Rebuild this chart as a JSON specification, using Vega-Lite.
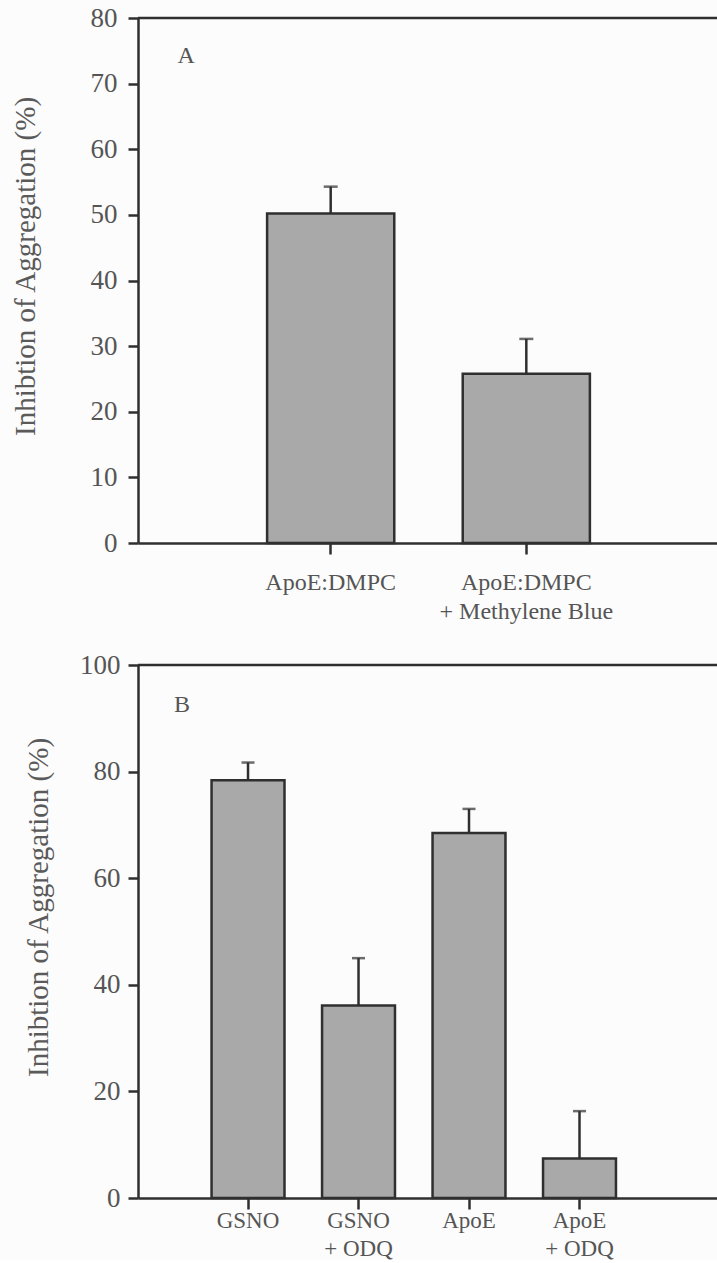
{
  "$schema": "https://vega.github.io/schema/vega-lite/v6.json",
  "background": "#fcfcfc",
  "padding": {"left": 11, "top": 4, "right": 0, "bottom": 0},
  "columns": 1,
  "align": "none",
  "spacing": 28,
  "concat": [
    {
      "width": 581,
      "height": 525,
      "layer": [
        {
          "data": {"values": [
            {"condition": "ApoE:DMPC", "inhibition": 50.2, "upper": 54.3},
            {"condition": "ApoE:DMPC + Methylene Blue", "inhibition": 25.8, "upper": 31.1}
          ]},
          "encoding": {
            "x": {
              "field": "condition", "type": "nominal", "sort": null,
              "scale": {"paddingInner": 0.35, "paddingOuter": 0.66, "align": 0.5},
              "axis": {"title": null, "labelAngle": 0, "tickSize": 11, "labelPadding": 16, "labelFontSize": 24, "labelLineHeight": 29,
                "labelFont": "Liberation Serif",
                "labelExpr": "indexof(datum.label, ' + ') > 0 ? [substring(datum.label, 0, indexof(datum.label, ' + ')), substring(datum.label, indexof(datum.label, ' + ') + 1)] : datum.label"}
            }
          },
          "layer": [
            {
              "mark": {"type": "bar", "fill": "#a9a9a9", "stroke": "#2f2f2f", "strokeWidth": 2.5},
              "encoding": {
                "y": {"field": "inhibition", "type": "quantitative", "scale": {"domain": [0, 80], "nice": false},
                  "axis": {"title": "Inhibtion of Aggregation (%)", "values": [0, 10, 20, 30, 40, 50, 60, 70, 80], "tickSize": 10, "labelPadding": 11, "titlePadding": 50, "titleY": 248,
                    "labelFont": "Liberation Serif", "titleFont": "Liberation Serif", "labelFontSize": 27, "titleFontSize": 29, "titleFontWeight": "normal", "labelColor": "#555", "titleColor": "#5a5a5a"}}
              }
            },
            {
              "mark": {"type": "rule", "stroke": "#2f2f2f", "strokeWidth": 2.5},
              "encoding": {"y": {"field": "inhibition", "type": "quantitative"}, "y2": {"field": "upper"}}
            },
            {
              "mark": {"type": "tick", "color": "#2f2f2f", "size": 14, "thickness": 2.5},
              "encoding": {"y": {"field": "upper", "type": "quantitative"}}
            }
          ]
        },
        {
          "data": {"values": [{"panel": "A"}]},
          "mark": {"type": "text", "fontSize": 24, "color": "#555", "align": "center", "baseline": "alphabetic", "font": "Liberation Serif"},
          "encoding": {
            "x": {"datum": 0.083, "type": "quantitative", "scale": {"domain": [0, 1]}, "axis": null},
            "y": {"datum": 73.1, "type": "quantitative"},
            "text": {"field": "panel"}
          }
        },
        {
          "data": {"values": [{}]},
          "mark": {"type": "rule", "stroke": "#2f2f2f", "strokeWidth": 2.5},
          "encoding": {"y": {"datum": 80, "type": "quantitative"}}
        }
      ],
      "resolve": {"scale": {"x": "independent"}}
    },
    {
      "width": 594,
      "height": 533,
      "layer": [
        {
          "data": {"values": [
            {"condition": "GSNO", "inhibition": 78.4, "upper": 81.7},
            {"condition": "GSNO + ODQ", "inhibition": 36.1, "upper": 45.0},
            {"condition": "ApoE", "inhibition": 68.5, "upper": 73.0},
            {"condition": "ApoE + ODQ", "inhibition": 7.4, "upper": 16.3}
          ]},
          "encoding": {
            "x": {
              "field": "condition", "type": "nominal", "sort": null,
              "scale": {"paddingInner": 0.34, "paddingOuter": 0.858, "align": 0.388},
              "axis": {"title": null, "labelAngle": 0, "tickSize": 11, "labelPadding": 0, "labelFontSize": 23, "labelLineHeight": 28,
                "labelFont": "Liberation Serif",
                "labelExpr": "indexof(datum.label, ' + ') > 0 ? [substring(datum.label, 0, indexof(datum.label, ' + ')), substring(datum.label, indexof(datum.label, ' + ') + 1)] : datum.label"}
            }
          },
          "layer": [
            {
              "mark": {"type": "bar", "fill": "#a9a9a9", "stroke": "#2f2f2f", "strokeWidth": 2.5},
              "encoding": {
                "y": {"field": "inhibition", "type": "quantitative", "scale": {"domain": [0, 100], "nice": false},
                  "axis": {"title": "Inhibtion of Aggregation (%)", "values": [0, 20, 40, 60, 80, 100], "tickSize": 10, "labelPadding": 8, "titlePadding": 26, "titleY": 242,
                    "labelFont": "Liberation Serif", "titleFont": "Liberation Serif", "labelFontSize": 27, "titleFontSize": 29, "titleFontWeight": "normal", "labelColor": "#555", "titleColor": "#5a5a5a"}}
              }
            },
            {
              "mark": {"type": "rule", "stroke": "#2f2f2f", "strokeWidth": 2.5},
              "encoding": {"y": {"field": "inhibition", "type": "quantitative"}, "y2": {"field": "upper"}}
            },
            {
              "mark": {"type": "tick", "color": "#2f2f2f", "size": 13, "thickness": 2.5},
              "encoding": {"y": {"field": "upper", "type": "quantitative"}}
            }
          ]
        },
        {
          "data": {"values": [{"panel": "B"}]},
          "mark": {"type": "text", "fontSize": 24, "color": "#555", "align": "center", "baseline": "alphabetic", "font": "Liberation Serif"},
          "encoding": {
            "x": {"datum": 0.074, "type": "quantitative", "scale": {"domain": [0, 1]}, "axis": null},
            "y": {"datum": 91.2, "type": "quantitative"},
            "text": {"field": "panel"}
          }
        },
        {
          "data": {"values": [{}]},
          "mark": {"type": "rule", "stroke": "#2f2f2f", "strokeWidth": 2.5},
          "encoding": {"y": {"datum": 100, "type": "quantitative"}}
        }
      ],
      "resolve": {"scale": {"x": "independent"}}
    }
  ],
  "config": {
    "font": "Liberation Serif",
    "view": {"stroke": null},
    "axis": {
      "labelFont": "Liberation Serif", "titleFont": "Liberation Serif",
      "labelColor": "#555", "titleColor": "#555",
      "domainColor": "#2f2f2f", "tickColor": "#2f2f2f",
      "domainWidth": 2.5, "tickWidth": 2.5,
      "grid": false, "titleFontWeight": "normal",
      "labelFontSize": 26, "titleFontSize": 28
    }
  }
}
